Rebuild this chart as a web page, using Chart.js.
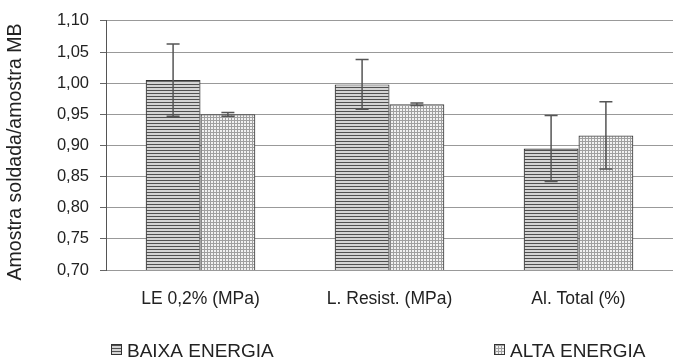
<!DOCTYPE html>
<html>
<head>
<meta charset="utf-8">
<script src="https://cdn.jsdelivr.net/npm/chart.js@4/dist/chart.umd.min.js"></script>
<style>
  html, body { margin: 0; padding: 0; background: #fff; }
  #wrap { position: relative; width: 673px; height: 363px; }
</style>
</head>
<body>
<div id="wrap"><canvas id="c" width="673" height="363"></canvas></div>
<script>
const categories = ['LE 0,2% (MPa)', 'L. Resist. (MPa)', 'Al. Total (%)'];
const seriesNames = ['BAIXA ENERGIA', 'ALTA ENERGIA'];
const yTitle = 'Amostra soldada/amostra MB';
const baixa = [1.005, 0.998, 0.895];
const alta = [0.950, 0.966, 0.916];
const baixaErr = [0.058, 0.040, 0.053];
const altaErr = [0.003, 0.002, 0.054];
const yMin = 0.70, yMax = 1.10, yStep = 0.05;

const FONT = '"Liberation Sans", Arial, sans-serif';

function makePattern(kind) {
  const c = document.createElement('canvas');
  c.width = 3; c.height = 3;
  const g = c.getContext('2d');
  if (kind === 'h') {
    g.fillStyle = '#d4d4d4'; g.fillRect(0, 0, 3, 3);
    g.fillStyle = '#505050'; g.fillRect(0, 0, 3, 1);
  } else {
    g.fillStyle = '#f2f2f2'; g.fillRect(0, 0, 3, 3);
    g.fillStyle = '#a0a0a0'; g.fillRect(0, 0, 3, 1); g.fillRect(0, 0, 1, 3);
  }
  return document.getElementById('c').getContext('2d').createPattern(c, 'repeat');
}
const patH = makePattern('h');
const patG = makePattern('g');

const errorBars = {
  id: 'errorBars',
  afterDatasetsDraw(chart) {
    const ctx = chart.ctx;
    const ys = chart.scales.y;
    const errs = [baixaErr, altaErr];
    ctx.save();
    ctx.strokeStyle = '#555';
    ctx.lineWidth = 1.5;
    chart.data.datasets.forEach((ds, di) => {
      const meta = chart.getDatasetMeta(di);
      meta.data.forEach((el, i) => {
        const v = ds.data[i], e = errs[di][i];
        const yt = ys.getPixelForValue(v + e), yb = ys.getPixelForValue(v - e);
        const x = el.x, cap = 6.5;
        ctx.beginPath();
        ctx.moveTo(x, yt); ctx.lineTo(x, yb);
        ctx.moveTo(x - cap, yt); ctx.lineTo(x + cap, yt);
        ctx.moveTo(x - cap, yb); ctx.lineTo(x + cap, yb);
        ctx.stroke();
      });
    });
    ctx.restore();
  }
};

const customText = {
  id: 'customText',
  afterDraw(chart) {
    const ctx = chart.ctx;
    const items = [
      { x: 111, pat: patH, text: seriesNames[0] },
      { x: 494, pat: patG, text: seriesNames[1] }
    ];
    ctx.save();
    items.forEach(it => {
      ctx.fillStyle = it.pat;
      ctx.fillRect(it.x, 344, 11, 11);
      ctx.strokeStyle = '#333'; ctx.lineWidth = 1;
      ctx.strokeRect(it.x + 0.5, 344.5, 10, 10);
      ctx.fillStyle = '#222';
      ctx.font = '19px ' + FONT;
      ctx.textBaseline = 'alphabetic';
      ctx.textAlign = 'left';
      ctx.fillText(it.text, it.x + 16, 357);
    });
    // y axis title
    ctx.translate(16, 152);
    ctx.rotate(-Math.PI / 2);
    ctx.fillStyle = '#222';
    ctx.font = '19.5px ' + FONT;
    ctx.textAlign = 'center';
    ctx.textBaseline = 'middle';
    ctx.fillText(yTitle, 0, 0);
    ctx.restore();
  }
};

new Chart(document.getElementById('c'), {
  type: 'bar',
  data: {
    labels: categories,
    datasets: [
      { label: seriesNames[0], data: baixa, backgroundColor: patH, borderColor: '#333', borderWidth: 1.2, borderSkipped: 'bottom' },
      { label: seriesNames[1], data: alta, backgroundColor: patG, borderColor: '#444', borderWidth: 1.2, borderSkipped: 'bottom' }
    ]
  },
  options: {
    responsive: false,
    animation: false,
    events: [],
    layout: { padding: { top: 18, right: 0, left: 0, bottom: 0 } },
    datasets: { bar: { categoryPercentage: 0.58, barPercentage: 1.0 } },
    plugins: { legend: { display: false }, tooltip: { enabled: false } },
    scales: {
      x: {
        grid: { display: false, drawTicks: false },
        border: { display: false },
        ticks: { color: '#222', font: { family: FONT, size: 17.5 }, padding: 19, maxRotation: 0 },
        afterFit(s) { s.height = 93; }
      },
      y: {
        min: yMin, max: yMax,
        grid: { color: '#999', lineWidth: 1, drawTicks: true, tickLength: 6, tickColor: '#666' },
        border: { display: true, color: '#555', width: 1 },
        ticks: {
          stepSize: yStep, padding: 11, color: '#222',
          font: { family: FONT, size: 16.5 },
          callback: v => Number(v).toFixed(2).replace('.', ',')
        },
        title: { display: false },
        afterFit(s) { s.width = 106; }
      }
    }
  },
  plugins: [errorBars, customText]
});
</script>
</body>
</html>
